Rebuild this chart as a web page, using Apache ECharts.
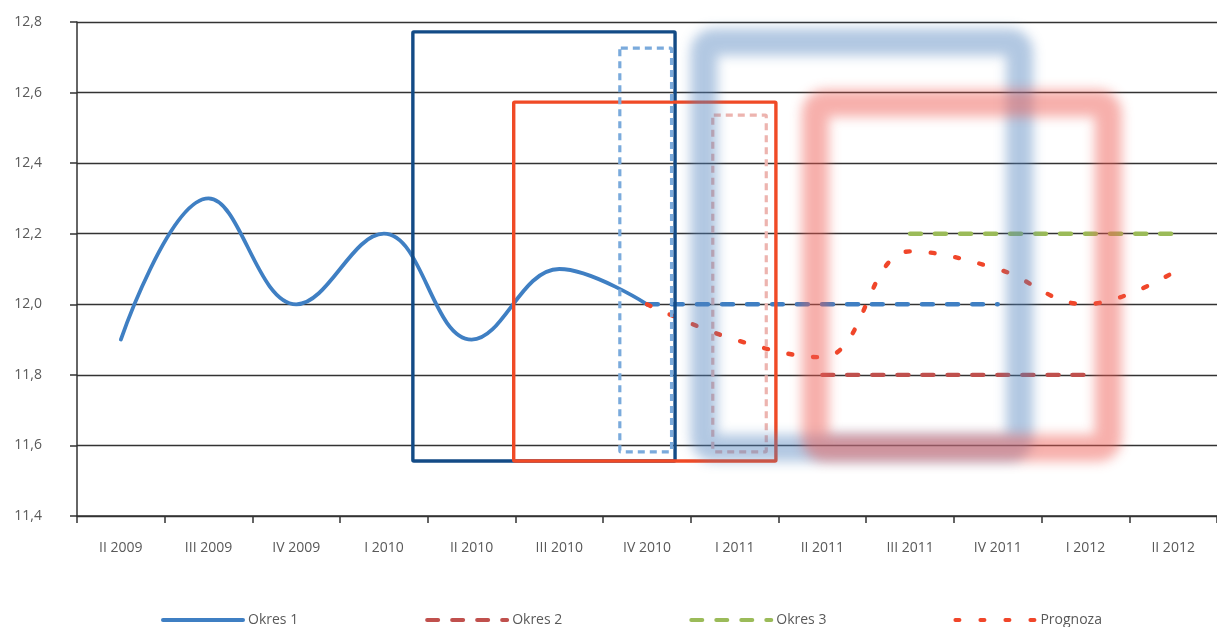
<!DOCTYPE html>
<html>
<head>
<meta charset="utf-8">
<script src="https://cdn.jsdelivr.net/npm/echarts@6/dist/echarts.min.js"></script>
<style>
html,body{margin:0;padding:0;background:#fff;}
#chart{width:1217px;height:627px;}
</style>
</head>
<body>
<div id="chart"></div>
<script>
var categories = ['II 2009','III 2009','IV 2009','I 2010','II 2010','III 2010','IV 2010','I 2011','II 2011','III 2011','IV 2011','I 2012','II 2012'];
var okres1 = [11.9, 12.3, 12.0, 12.2, 11.9, 12.1, 12.0, '-', '-', '-', '-', '-', '-'];
var okres1Cd = ['-', '-', '-', '-', '-', '-', 12.0, 12.0, 12.0, 12.0, 12.0, '-', '-'];
var okres2 = ['-', '-', '-', '-', '-', '-', '-', '-', 11.8, 11.8, 11.8, 11.8, '-'];
var okres3 = ['-', '-', '-', '-', '-', '-', '-', '-', '-', 12.2, 12.2, 12.2, 12.2];
var prognoza = ['-', '-', '-', '-', '-', '-', 12.0, 11.9, 11.85, 12.15, 12.1, 12.0, 12.09];
var yTicks = { min: 11.4, max: 12.8, interval: 0.2 };

// annotation boxes in data units: [left category index (fractional), right, top value, bottom value]
var boxes = [
  { ext: [3.33, 6.32, 12.772, 11.556], kind: 'solid', color: '#134b86' },
  { ext: [4.48, 7.47, 12.573, 11.556], kind: 'solid', color: '#f04a26' },
  { ext: [5.69, 6.28, 12.726, 11.582], kind: 'dotted', color: '#7aaadc' },
  { ext: [6.75, 7.36, 12.536, 11.582], kind: 'dotted', color: '#edb4af' },
  { ext: [6.65, 10.25, 12.743, 11.593], kind: 'blur', color: 'rgba(79,129,189,0.44)' },
  { ext: [7.92, 11.26, 12.570, 11.593], kind: 'blur', color: 'rgba(238,90,82,0.48)' }
];

var font = "'Open Sans', 'Noto Sans', sans-serif";
var chart = echarts.init(document.getElementById('chart'), null, { renderer: 'canvas' });

function lineSeries(name, data, color, type, width, z) {
  return {
    name: name, type: 'line', data: data, smooth: 0.4, symbol: 'none',
    connectNulls: false, z: z,
    lineStyle: { color: color, width: width, type: type, cap: 'round' },
    itemStyle: { color: color },
    emphasis: { disabled: true }
  };
}

var option = {
  animation: false,
  backgroundColor: '#fff',
  grid: { left: 77, right: 0, top: 22, bottom: 111 },
  legend: {
    data: ['Okres 1', 'Okres 2', 'Okres 3', 'Prognoza'],
    left: 161, top: 613, itemWidth: 80, itemHeight: 14, itemGap: 127, padding: 0,
    itemStyle: { opacity: 0, borderWidth: 0 },
    lineStyle: { width: 4 },
    textStyle: { fontFamily: font, fontSize: 14, color: '#595959' }
  },
  xAxis: {
    type: 'category', data: categories, boundaryGap: true,
    axisLine: { show: true, lineStyle: { color: '#333', width: 1.5 } },
    axisTick: { show: true, length: 7, lineStyle: { color: '#333', width: 1.5 } },
    axisLabel: { margin: 25, fontFamily: font, fontSize: 14, color: '#595959' },
    splitLine: { show: false }
  },
  yAxis: {
    type: 'value', min: yTicks.min, max: yTicks.max, interval: yTicks.interval,
    axisLine: { show: true, lineStyle: { color: '#333', width: 1.5 } },
    axisTick: { show: true, length: 7, lineStyle: { color: '#333', width: 1.5 } },
    axisLabel: { margin: 35, fontFamily: font, fontSize: 14, color: '#595959',
      formatter: function (v) { return v.toFixed(1).replace('.', ','); } },
    splitLine: { show: true, lineStyle: { color: '#333', width: 1.3 } }
  },
  series: [
    lineSeries('Okres 1', okres1, '#3f7fc3', 'solid', 3.8, 2),
    lineSeries('Okres 1 cd.', okres1Cd, '#3f7fc3', [11, 14], 4.4, 3),
    lineSeries('Okres 2', okres2, '#c0504d', [11, 14], 4.4, 3),
    lineSeries('Okres 3', okres3, '#9bbb59', [11, 14], 4.4, 3),
    lineSeries('Prognoza', prognoza, '#f0462a', [4, 21], 4.4, 4)
  ]
};
chart.setOption(option);

function buildBoxes() {
  var p0 = chart.convertToPixel({ xAxisIndex: 0 }, 0);
  var p1 = chart.convertToPixel({ xAxisIndex: 0 }, 1);
  var pitch = p1 - p0;
  var shift = 4000;
  var els = [];
  boxes.forEach(function (b, i) {
    var x1 = p0 + b.ext[0] * pitch, x2 = p0 + b.ext[1] * pitch;
    var y1 = chart.convertToPixel({ yAxisIndex: 0 }, b.ext[2]);
    var y2 = chart.convertToPixel({ yAxisIndex: 0 }, b.ext[3]);
    var style, ox = 0;
    if (b.kind === 'solid') {
      style = { fill: null, stroke: b.color, lineWidth: 3.4 };
    } else if (b.kind === 'dotted') {
      style = { fill: null, stroke: b.color, lineWidth: 3.2, lineDash: [7, 5] };
    } else {
      ox = -shift;
      style = { fill: null, stroke: '#000', lineWidth: 27, shadowBlur: 12,
        shadowColor: b.color, shadowOffsetX: shift, shadowOffsetY: 0 };
    }
    els.push({
      type: 'rect', z: 100 + i, silent: true,
      shape: { x: x1 + ox, y: y1, width: x2 - x1, height: y2 - y1, r: b.kind === 'blur' ? 10 : 1 },
      style: style
    });
  });
  chart.setOption({ graphic: els });
}
buildBoxes();
</script>
</body>
</html>
